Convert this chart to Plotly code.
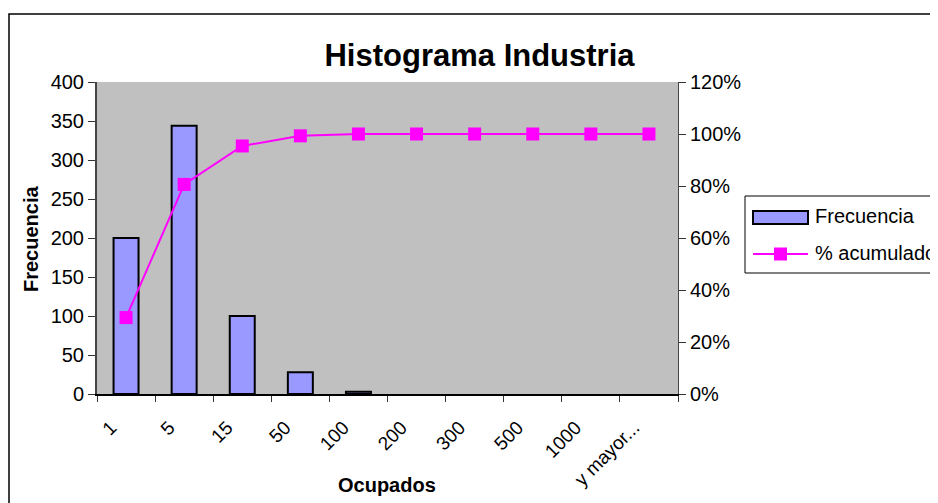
import plotly.graph_objects as go

categories = ["1", "5", "15", "50", "100", "200", "300", "500", "1000", "y mayor..."]
frecuencia = [200, 344, 100, 28, 3, 0, 0, 0, 0, 0]
pct_acumulado = [0.294, 0.806, 0.954, 0.993, 1.0, 1.0, 1.0, 1.0, 1.0, 1.0]

FONT = "Liberation Sans, Arial, sans-serif"
BAR_COLOR = "#9999FF"
LINE_COLOR = "#FF00FF"

# page (screenshot) pixel -> paper coordinates (plot area 97..678 x 82..394 on the page)
def px(x):
    return (x - 97) / 581

def py(y):
    return (394 - y) / 312

fig = go.Figure()
fig.add_trace(go.Bar(
    x=categories, y=frecuencia, name="Frecuencia", showlegend=False,
    marker=dict(color=BAR_COLOR,
                line=dict(color="black", width=[2 if v > 0 else 0 for v in frecuencia])),
    yaxis="y",
))
fig.add_trace(go.Scatter(
    x=categories, y=pct_acumulado, name="% acumulado", showlegend=False,
    mode="lines+markers",
    line=dict(color=LINE_COLOR, width=2),
    marker=dict(symbol="square", size=13, color=LINE_COLOR),
    yaxis="y2", cliponaxis=False,
))

shapes = [
    # outer chart border
    dict(type="rect", xref="paper", yref="paper",
         x0=px(9), x1=px(960), y0=py(530), y1=py(14),
         line=dict(color="black", width=1.5), fillcolor="rgba(0,0,0,0)", layer="below"),
    # legend box
    dict(type="rect", xref="paper", yref="paper",
         x0=px(745), x1=px(960), y0=py(273), y1=py(196),
         line=dict(color="black", width=1), fillcolor="white"),
    # legend bar symbol
    dict(type="rect", xref="paper", yref="paper",
         x0=px(753), x1=px(808), y0=py(224), y1=py(211),
         line=dict(color="black", width=2), fillcolor=BAR_COLOR),
    # legend line symbol
    dict(type="line", xref="paper", yref="paper",
         x0=px(753), x1=px(808), y0=py(254), y1=py(254),
         line=dict(color=LINE_COLOR, width=2)),
    dict(type="rect", xref="paper", yref="paper",
         x0=px(774), x1=px(787), y0=py(260.5), y1=py(247.5),
         line=dict(color=LINE_COLOR, width=0), fillcolor=LINE_COLOR),
]

annotations = [
    dict(text="<b>Ocupados</b>", x=px(386.5), y=py(485), xref="paper", yref="paper",
         xanchor="center", yanchor="middle", showarrow=False, font=dict(size=20)),
    dict(text="<b>Frecuencia</b>", x=px(31), y=py(239), xref="paper", yref="paper",
         textangle=-90, xanchor="center", yanchor="middle", showarrow=False,
         font=dict(size=20)),
    dict(text="Frecuencia", x=px(813), y=py(216), xref="paper", yref="paper",
         xanchor="left", yanchor="middle", showarrow=False, font=dict(size=20)),
    dict(text="% acumulado", x=px(813), y=py(253), xref="paper", yref="paper",
         xanchor="left", yanchor="middle", showarrow=False, font=dict(size=20)),
]

fig.update_layout(
    width=938, height=503,
    margin=dict(l=89, r=268, t=74, b=117),
    paper_bgcolor="white", plot_bgcolor="#C0C0C0",
    font=dict(family=FONT, size=20, color="black"),
    bargap=0.57,
    showlegend=False,
    title=dict(text="<b>Histograma Industria</b>", x=px(479.5), xref="paper", xanchor="center",
               y=1 - 47 / 503, yref="container", yanchor="middle",
               font=dict(size=31, family=FONT)),
    xaxis=dict(
        type="category", range=[-0.5, len(categories) - 0.5], autorange=False,
        tickangle=-45, tickson="boundaries",
        ticks="outside", ticklen=6, tickcolor="#333", tickwidth=1,
        showline=True, linecolor="black", linewidth=2,
        showgrid=False, zeroline=False,
        tickfont=dict(size=19), ticklabelstandoff=13, ticklabelshift=-15,
    ),
    yaxis=dict(
        range=[0, 400], dtick=50, ticks="outside", ticklen=7, tickcolor="#333",
        showline=True, linecolor="#444", linewidth=2,
        showgrid=False, zeroline=False, tickfont=dict(size=20),
    ),
    yaxis2=dict(
        range=[0, 1.2], dtick=0.2, tickformat=".0%", overlaying="y", side="right",
        ticks="outside", ticklen=7, tickcolor="#333",
        showline=True, linecolor="#444", linewidth=1,
        showgrid=False, zeroline=False, tickfont=dict(size=20),
    ),
    annotations=annotations,
    shapes=shapes,
)

fig.write_html("out.html")
